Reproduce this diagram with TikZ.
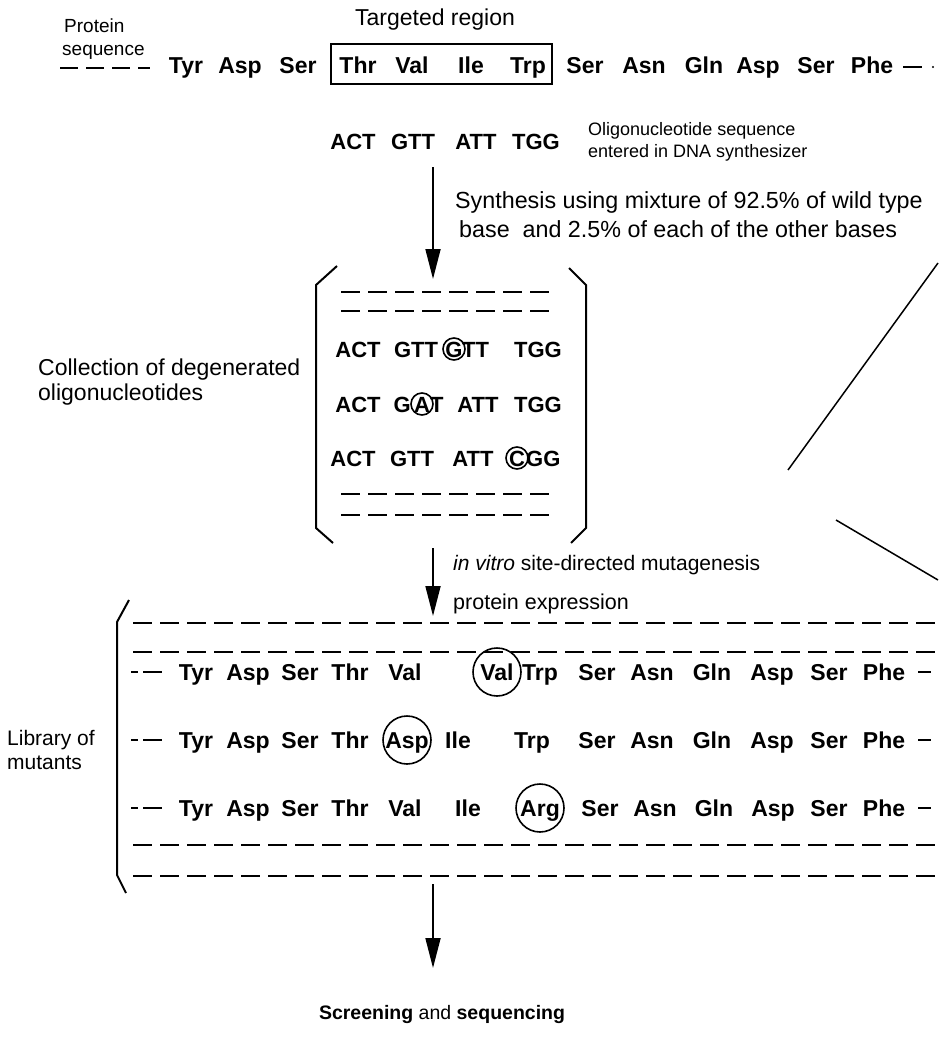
\documentclass[tikz,border=0pt]{standalone}
\usepackage{fontspec}
\setmainfont{Liberation Sans}
\usetikzlibrary{arrows.meta}
\tikzset{
  aa/.style={font=\fontsize{22}{26}\selectfont\bfseries, inner sep=0pt, anchor=base},
  ab/.style={font=\fontsize{23}{27}\selectfont\bfseries, inner sep=0pt, anchor=base},
  lab/.style={font=\fontsize{21}{25}\selectfont, inner sep=0pt, anchor=base west},
  small/.style={font=\fontsize{18}{21}\selectfont, inner sep=0pt, anchor=base west},
  dline/.style={line width=2pt, dash pattern=on 19pt off 8pt},
  bline/.style={line width=2pt},
  arr/.style={line width=1.8pt, -{Triangle[length=30pt,width=15pt]}},
  ring/.style={draw, circle, line width=1.6pt, inner sep=0pt},
}
\begin{document}
\begin{tikzpicture}[x=1pt,y=-1pt]
\useasboundingbox (0,0) rectangle (938,1041);
% ---------- top protein sequence ----------
\node[font=\fontsize{23}{27}\selectfont, inner sep=0pt, anchor=base] (treg) at (435,26) {Targeted region};
\node[font=\fontsize{19}{22}\selectfont, inner sep=0pt, anchor=base west] (prot) at (64,33) {Protein};
\node[font=\fontsize{19}{22}\selectfont, inner sep=0pt, anchor=base west] (seqw) at (62,56) {sequence};
\coordinate (d0) at (60,68); \coordinate (d1) at (150,68);
\draw[line width=2pt, dash pattern=on 18pt off 8pt] (d0) -- (d1);
\foreach \x/\t [count=\i] in {186/Tyr,240/Asp,298/Ser,358/Thr,412/Val,471/Ile,528/Trp,585/Ser,644/Asn,704/Gln,758/Asp,816/Ser,872/Phe}
  \node[ab] (top\i) at (\x,74) {\t};
\coordinate (te0) at (903,67); \coordinate (te1) at (922,67);
\draw[bline] (te0) -- (te1);
\fill (933,67) circle (1.2pt);
\draw[line width=1.8pt] (331,44) rectangle (552,84);
% ---------- oligonucleotide ----------
\foreach \x/\t [count=\i] in {353/ACT,413/GTT,476/ATT,536/TGG}
  \node[aa] (ol\i) at (\x,149) {\t};
\node[small] (oll1) at (588,135) {Oligonucleotide sequence};
\node[small] (oll2) at (588,157) {entered in DNA synthesizer};
\node[lab, font=\fontsize{23.3}{27}\selectfont] (syn1) at (455,208) {Synthesis using mixture of 92.5\% of wild type};
\node[lab, font=\fontsize{23.3}{27}\selectfont] (syn2) at (459,237) {base\ \ and 2.5\% of each of the other bases};
\coordinate (a1s) at (433,167); \coordinate (a1e) at (433,279);
\draw[arr] (a1s) -- (a1e);
% ---------- degenerated oligos bracket ----------
\draw[bline] (337,266) -- (316,285) -- (316,528) -- (333,543);
\draw[bline] (569,268) -- (586,285) -- (586,528) -- (571,543);
\foreach \y in {292,311,494,515}
  \draw[dline] (341,\y) -- (553,\y);
% row 1
\node[aa] (r1a) at (358,357) {ACT};
\node[aa] (r1b) at (416,357) {GTT};
\node[ring, minimum size=22pt] (r1c) at (454,349) {};
\node[aa] (r1g) at (454,357) {G};
\node[aa, anchor=base west] (r1t) at (462,357) {TT};
\node[aa] (r1d) at (538,357) {TGG};
% row 2
\node[aa] (r2a) at (358,412) {ACT};
\node[ring, minimum size=22pt] (r2c) at (422,404) {};
\node[aa] (r2m) at (422,412) {A};
\node[aa, anchor=base east] (r2g) at (411,412) {G};
\node[aa, anchor=base west] (r2t) at (430,412) {T};
\node[aa] (r2b) at (478,412) {ATT};
\node[aa] (r2d) at (538,412) {TGG};
% row 3
\node[aa] (r3a) at (353,466) {ACT};
\node[aa] (r3b) at (412,466) {GTT};
\node[aa] (r3x) at (473,466) {ATT};
\node[ring, minimum size=22pt] (r3c) at (517,458) {};
\node[aa] (r3m) at (517,466) {C};
\node[aa, anchor=base west] (r3g) at (526,466) {GG};
\node[lab, font=\fontsize{23}{27}\selectfont] (col1) at (38,375) {Collection of degenerated};
\node[lab, font=\fontsize{23}{27}\selectfont] (col2) at (38,400) {oligonucleotides};
% ---------- arrow 2 ----------
\coordinate (a2s) at (433,548); \coordinate (a2e) at (433,616);
\draw[arr] (a2s) -- (a2e);
\node[lab] (vit) at (453,570) {\itshape in vitro\upshape\ site-directed mutagenesis};
\node[lab, font=\fontsize{21.5}{25}\selectfont] (pex) at (453,609) {protein expression};
% ---------- diagonal lines ----------
\coordinate (g1) at (938,263); \coordinate (g2) at (788,470);
\coordinate (g3) at (836,520); \coordinate (g4) at (938,580);
\draw[line width=1.5pt] (g1) -- (g2);
\draw[line width=1.5pt] (g3) -- (g4);
% ---------- library ----------
\draw[bline] (129,600) -- (117,622) -- (117,875) -- (126,893);
\foreach \y in {623,652,845,876}
  \draw[dline] (133,\y) -- (938,\y);
\node[lab] (lib1) at (7,745) {Library of};
\node[lab] (lib2) at (7,769) {mutants};
% row 1
\draw[bline] (131,672) -- (138,672) (143,672) -- (162,672) (918,672) -- (931,672);
\foreach \x/\t [count=\i] in {196/Tyr,248/Asp,300/Ser,350/Thr,405/Val,497/Val,540/Trp,597/Ser,652/Asn,712/Gln,772/Asp,829/Ser,884/Phe}
  \node[ab] (m1\i) at (\x,680) {\t};
\node[ring, minimum size=48pt] (c1) at (497,672) {};
% row 2
\draw[bline] (131,740) -- (138,740) (143,740) -- (162,740) (918,740) -- (931,740);
\foreach \x/\t [count=\i] in {196/Tyr,248/Asp,300/Ser,350/Thr,407/Asp,458/Ile,532/Trp,597/Ser,652/Asn,712/Gln,772/Asp,829/Ser,884/Phe}
  \node[ab] (m2\i) at (\x,748) {\t};
\node[ring, minimum size=48pt] (c2) at (407,740) {};
% row 3
\draw[bline] (131,808) -- (138,808) (143,808) -- (162,808) (918,808) -- (931,808);
\foreach \x/\t [count=\i] in {196/Tyr,248/Asp,300/Ser,350/Thr,405/Val,468/Ile,540/Arg,600/Ser,655/Asn,714/Gln,773/Asp,829/Ser,884/Phe}
  \node[ab] (m3\i) at (\x,816) {\t};
\node[ring, minimum size=48pt] (c3) at (540,808) {};
% ---------- arrow 3 ----------
\coordinate (a3s) at (433,884); \coordinate (a3e) at (433,968);
\draw[arr] (a3s) -- (a3e);
\node[font=\fontsize{19.5}{23}\selectfont, inner sep=0pt, anchor=base] (scr) at (442,1019) {\textbf{Screening} and \textbf{sequencing}};
\end{tikzpicture}
\end{document}
